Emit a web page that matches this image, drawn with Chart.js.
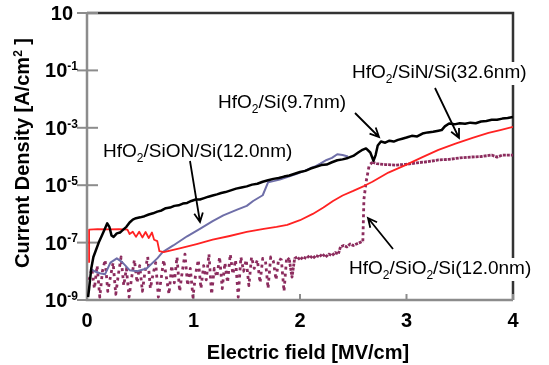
<!DOCTYPE html>
<html>
<head>
<meta charset="utf-8">
<script src="https://cdn.jsdelivr.net/npm/chart.js@4.4.0/dist/chart.umd.min.js"></script>
<style>
  html, body { margin: 0; padding: 0; background: #fff; }
  #wrap { width: 549px; height: 365px; }
</style>
</head>
<body>
<div id="wrap"><canvas id="chart" width="549" height="365"></canvas></div>
<script>
// Оси: поле в MV/cm, плотность тока — показатель степени (log10 J)
const xTicks = [0, 1, 2, 3, 4];
const yTickExp = [1, -1, -3, -5, -7, -9];

// HfO2/Si (9.7nm) — чёрная
const siField = [0.01, 0.02, 0.04, 0.06, 0.08, 0.11, 0.14, 0.17, 0.19, 0.21, 0.23, 0.25, 0.28, 0.31, 0.34, 0.37, 0.40, 0.43, 0.46, 0.50,
    0.54, 0.58, 0.62, 0.66, 0.70, 0.74, 0.78, 0.82, 0.86, 0.90, 0.94, 0.98, 1.02, 1.06, 1.10, 1.14, 1.18, 1.22, 1.26, 1.30,
    1.35, 1.40, 1.45, 1.50, 1.55, 1.60, 1.65, 1.70, 1.75, 1.80, 1.85, 1.90, 1.95, 2.00, 2.05, 2.10, 2.15, 2.20, 2.25, 2.30,
    2.35, 2.40, 2.45, 2.50, 2.55, 2.58, 2.62, 2.66, 2.69, 2.71, 2.73, 2.76, 2.80, 2.84, 2.88, 2.92, 2.96, 3.00, 3.05, 3.10,
    3.15, 3.20, 3.25, 3.30, 3.33, 3.36, 3.40, 3.45, 3.50, 3.55, 3.60, 3.65, 3.70, 3.75, 3.80, 3.85, 3.90, 3.95, 4.00];
const siLogJ = [-8.9, -8.6, -7.9, -7.5, -7.3, -7.0, -6.75, -6.5, -6.33, -6.45, -6.75, -6.8, -6.68, -6.65, -6.55, -6.45, -6.3, -6.2, -6.15, -6.12,
    -6.08, -6.02, -5.98, -5.92, -5.88, -5.8, -5.78, -5.72, -5.7, -5.64, -5.62, -5.55, -5.5, -5.5, -5.45, -5.4, -5.36, -5.32, -5.27, -5.24,
    -5.18, -5.12, -5.08, -5.04, -4.98, -4.95, -4.88, -4.83, -4.78, -4.75, -4.7, -4.66, -4.6, -4.54, -4.5, -4.42, -4.36, -4.3, -4.28, -4.2,
    -4.13, -4.1, -4.05, -3.98, -3.85, -3.78, -3.72, -3.86, -4.15, -3.95, -3.62, -3.48, -3.52, -3.45, -3.48, -3.42, -3.38, -3.34, -3.28, -3.3,
    -3.2, -3.16, -3.14, -3.1, -3.08, -2.95, -2.85, -2.88, -2.84, -2.86, -2.82, -2.84, -2.78, -2.76, -2.72, -2.72, -2.68, -2.66, -2.62];

// HfO2/SiON/Si (12.0nm) — сине-серая
const sionField = [0.03, 0.07, 0.12, 0.17, 0.22, 0.28, 0.33, 0.40, 0.47, 0.56, 0.66, 0.71, 0.81, 0.94, 1.06, 1.18, 1.28, 1.41, 1.50, 1.56,
    1.65, 1.70, 1.76, 1.81, 1.88, 1.97, 2.03, 2.09, 2.14, 2.19, 2.25, 2.30, 2.35, 2.40, 2.45];
const sionLogJ = [-7.9, -8.0, -8.07, -8.1, -7.7, -7.55, -7.68, -7.96, -8.0, -7.9, -7.55, -7.33, -7.1, -6.78, -6.52, -6.25, -6.05, -5.85, -5.72, -5.55,
    -5.35, -4.9, -4.85, -4.8, -4.72, -4.6, -4.52, -4.42, -4.35, -4.25, -4.12, -4.05, -3.92, -3.95, -4.0];

// HfO2/SiN/Si (32.6nm) — красная
const sinField = [0.02, 0.02, 0.10, 0.20, 0.30, 0.38, 0.40, 0.43, 0.46, 0.49, 0.52, 0.55, 0.58, 0.61, 0.63, 0.66, 0.68, 0.72, 0.87, 1.03,
    1.18, 1.34, 1.50, 1.66, 1.78, 1.88, 2.00, 2.12, 2.22, 2.31, 2.40, 2.50, 2.60, 2.68, 2.83, 2.99, 3.15, 3.30, 3.46, 3.62, 3.77, 3.88, 4.00];
const sinLogJ = [-7.7, -6.55, -6.53, -6.54, -6.53, -6.55, -6.7, -6.62, -6.8, -6.62, -6.82, -6.63, -6.84, -6.65, -6.9, -6.95, -7.3, -7.33, -7.2, -7.05,
    -6.9, -6.77, -6.63, -6.52, -6.45, -6.38, -6.22, -6.0, -5.78, -5.55, -5.36, -5.2, -5.03, -4.88, -4.56, -4.3, -4.02, -3.77, -3.55, -3.35, -3.18, -3.08, -2.97];

// HfO2/SiO2/Si (12.0nm) — бордовая пунктирная
const sio2Field = [0.02, 0.045, 0.07, 0.095, 0.12, 0.145, 0.17, 0.195, 0.22, 0.245, 0.27, 0.295, 0.32, 0.345, 0.37, 0.395, 0.42, 0.445, 0.47, 0.495,
    0.52, 0.545, 0.57, 0.595, 0.62, 0.645, 0.67, 0.695, 0.72, 0.745, 0.77, 0.795, 0.82, 0.845, 0.87, 0.895, 0.92, 0.945, 0.97, 0.995,
    1.02, 1.045, 1.07, 1.095, 1.12, 1.145, 1.17, 1.195, 1.22, 1.245, 1.27, 1.295, 1.32, 1.345, 1.37, 1.395, 1.42, 1.445, 1.47, 1.495,
    1.52, 1.545, 1.57, 1.60, 1.625, 1.65, 1.675, 1.70, 1.725, 1.75, 1.775, 1.80, 1.825, 1.85, 1.875, 1.90, 1.925, 1.95, 1.975, 2.00,
    2.03, 2.06, 2.09, 2.12, 2.15, 2.18, 2.21, 2.24, 2.27, 2.30, 2.33, 2.36, 2.38, 2.41, 2.44, 2.47, 2.50, 2.53, 2.56, 2.59,
    2.60, 2.62, 2.65, 2.68, 2.72, 2.80, 2.90, 3.00, 3.10, 3.20, 3.30, 3.40, 3.50, 3.60, 3.70, 3.80, 3.85, 3.90, 4.00];
const sio2LogJ = [-8.3, -7.9, -8.6, -7.8, -8.9, -8.0, -7.6, -8.7, -8.2, -7.7, -8.8, -8.1, -7.5, -8.5, -7.9, -8.9, -8.2, -7.6, -8.4, -7.8,
    -8.7, -8.0, -7.5, -8.6, -8.1, -7.7, -8.9, -8.3, -7.6, -8.2, -8.8, -7.8, -8.4, -7.5, -8.7, -8.0, -7.4, -8.5, -7.9, -8.9,
    -8.1, -7.6, -8.6, -7.8, -8.3, -7.4, -8.8, -7.9, -8.2, -7.5, -8.6, -7.7, -8.4, -7.4, -8.1, -7.6, -8.9, -7.5, -8.0, -7.6,
    -8.5, -7.5, -7.9, -7.6, -8.4, -7.55, -7.6, -8.6, -7.5, -7.65, -8.3, -7.55, -7.6, -8.7, -7.5, -7.6, -8.2, -7.55, -7.5, -7.6,
    -7.5, -7.55, -7.45, -7.55, -7.45, -7.5, -7.4, -7.5, -7.4, -7.45, -7.35, -7.4, -7.15, -7.1, -7.15, -7.05, -7.1, -7.05, -7.0, -6.95,
    -5.5, -4.9, -4.3, -4.2, -4.25, -4.28, -4.3, -4.27, -4.22, -4.18, -4.12, -4.1, -4.05, -4.02, -4.0, -3.95, -4.02, -3.95, -3.95];

const FONT = '"Liberation Sans", Arial, sans-serif';

function toPoints(xs, exps) {
    return xs.map((x, i) => ({ x: x, y: Math.pow(10, exps[i]) }));
}

// текст с верхними/нижними индексами: parts = [[текст, 0|1|-1], ...]
function richWidth(ctx, parts, size, weight) {
    let w = 0;
    parts.forEach(([t, m]) => {
        ctx.font = `${weight} ${m ? Math.round(size * 0.62) : size}px ${FONT}`;
        w += ctx.measureText(t).width;
    });
    return w;
}

function drawRich(ctx, parts, x, y, size, weight, align) {
    const w = richWidth(ctx, parts, size, weight);
    let cx = align === 'right' ? x - w : align === 'center' ? x - w / 2 : x;
    ctx.textBaseline = 'alphabetic';
    ctx.textAlign = 'left';
    parts.forEach(([t, m]) => {
        const fs = m ? Math.round(size * 0.62) : size;
        ctx.font = `${weight} ${fs}px ${FONT}`;
        const dy = m === 1 ? -size * 0.36 : m === -1 ? size * 0.26 : 0;
        ctx.fillText(t, cx, y + dy);
        cx += ctx.measureText(t).width;
    });
    return w;
}

function arrow(ctx, x1, y1, x2, y2) {
    const a = Math.atan2(y2 - y1, x2 - x1);
    const L = 10, s = 0.45;
    ctx.beginPath();
    ctx.moveTo(x1, y1);
    ctx.lineTo(x2, y2);
    ctx.moveTo(x2 - L * Math.cos(a - s), y2 - L * Math.sin(a - s));
    ctx.lineTo(x2, y2);
    ctx.lineTo(x2 - L * Math.cos(a + s), y2 - L * Math.sin(a + s));
    ctx.stroke();
}

const labels = [
    { parts: [['HfO', 0], ['2', -1], ['/SiN/Si(32.6nm)', 0]], x: 352, y: 78, from: [435, 88], to: [459, 138] },
    { parts: [['HfO', 0], ['2', -1], ['/Si(9.7nm)', 0]], x: 218, y: 108, from: [355, 113], to: [379, 137] },
    { parts: [['HfO', 0], ['2', -1], ['/SiON/Si(12.0nm)', 0]], x: 103, y: 157, from: [190, 161], to: [200, 222] },
    { parts: [['HfO', 0], ['2', -1], ['/SiO', 0], ['2', -1], ['/Si(12.0nm)', 0]], x: 349, y: 274, from: [393, 249], to: [368, 218] },
];

const framePlugin = {
    id: 'frame',
    beforeDatasetsDraw(chart) {
        const { ctx, chartArea: a, scales } = chart;
        ctx.save();
        // верх и правая граница — тёмные
        ctx.strokeStyle = '#333';
        ctx.lineWidth = 2.5;
        ctx.beginPath();
        ctx.moveTo(a.left, a.top);
        ctx.lineTo(a.right, a.top);
        ctx.lineTo(a.right, a.bottom);
        ctx.stroke();
        // левая и нижняя оси — серые
        ctx.strokeStyle = '#8c8c8c';
        ctx.beginPath();
        ctx.moveTo(a.left, a.top);
        ctx.lineTo(a.left, a.bottom);
        ctx.lineTo(a.right, a.bottom);
        ctx.stroke();
        ctx.lineWidth = 2;
        yTickExp.forEach(e => {
            const py = scales.y.getPixelForValue(Math.pow(10, e));
            ctx.beginPath();
            ctx.moveTo(a.left - 10, py);
            ctx.lineTo(a.left + 11, py);
            ctx.stroke();
        });
        xTicks.forEach(v => {
            const px = scales.x.getPixelForValue(v);
            ctx.beginPath();
            ctx.moveTo(px, a.bottom);
            ctx.lineTo(px, a.bottom - 6);
            ctx.stroke();
        });
        ctx.restore();
    },
    afterDatasetsDraw(chart) {
        const { ctx, scales } = chart;
        ctx.save();
        ctx.fillStyle = '#000';
        // подписи оси Y: 10, 10^-1 ...
        yTickExp.forEach(e => {
            const py = scales.y.getPixelForValue(Math.pow(10, e));
            const parts = e === 1 ? [['10', 0]] : [['10', 0], [String(e), 1]];
            drawRich(ctx, parts, e === 1 ? 73 : 78, py + 7, 20, 'bold', 'right');
        });
        // подписи оси X
        ctx.font = `bold 20px ${FONT}`;
        ctx.textAlign = 'center';
        ctx.textBaseline = 'middle';
        xTicks.forEach(v => {
            ctx.fillText(String(v), scales.x.getPixelForValue(v), 321);
        });
        // заголовки осей
        drawRich(ctx, [['Electric field [MV/cm]', 0]], 308, 359, 20, 'bold', 'center');
        ctx.save();
        ctx.translate(29, 153);
        ctx.rotate(-Math.PI / 2);
        drawRich(ctx, [['Current Density [A/cm', 0], ['2', 1], [' ]', 0]], 0, 0, 20, 'bold', 'center');
        ctx.restore();

        // аннотации со стрелками
        labels.forEach(l => {
            const w = richWidth(ctx, l.parts, 19, 'normal');
            ctx.fillStyle = '#fff';
            ctx.fillRect(l.x - 2, l.y - 16, w + 4, 23);
            ctx.fillStyle = '#000';
            drawRich(ctx, l.parts, l.x, l.y, 19, 'normal', 'left');
            ctx.strokeStyle = '#000';
            ctx.lineWidth = 1.8;
            arrow(ctx, l.from[0], l.from[1], l.to[0], l.to[1]);
        });
        ctx.restore();
    }
};

// пунктир для SiO2: редкие точки в шумной области, плотнее дальше
const sio2Dash = c => {
    const x = c.p0.parsed.x;
    if (x < 1.9) return [3, 4];
    if (x >= 2.58 && x < 2.66) return [3, 3];
    return [3, 1];
};

const ctx = document.getElementById('chart').getContext('2d');
new Chart(ctx, {
    type: 'line',
    data: {
        datasets: [
            { label: 'HfO2/Si(9.7nm)', data: toPoints(siField, siLogJ), borderColor: '#000', borderWidth: 2.5 },
            { label: 'HfO2/SiN/Si(32.6nm)', data: toPoints(sinField, sinLogJ), borderColor: '#ff2222', borderWidth: 1.8 },
            { label: 'HfO2/SiON/Si(12.0nm)', data: toPoints(sionField, sionLogJ), borderColor: '#6e6ea8', borderWidth: 2 },
            {
                label: 'HfO2/SiO2/Si(12.0nm)', data: toPoints(sio2Field, sio2LogJ), borderColor: '#8c2c5e', borderWidth: 2.8,
                segment: { borderDash: sio2Dash }
            },
        ]
    },
    options: {
        responsive: false,
        animation: false,
        layout: { padding: { left: 87, right: 36, top: 13, bottom: 65 } },
        elements: { point: { radius: 0 }, line: { tension: 0, borderJoinStyle: 'round' } },
        plugins: { legend: { display: false }, tooltip: { enabled: false } },
        scales: {
            x: { type: 'linear', min: 0, max: 4, display: false },
            y: { type: 'logarithmic', min: 1e-9, max: 10, display: false }
        }
    },
    plugins: [framePlugin]
});
</script>
</body>
</html>
